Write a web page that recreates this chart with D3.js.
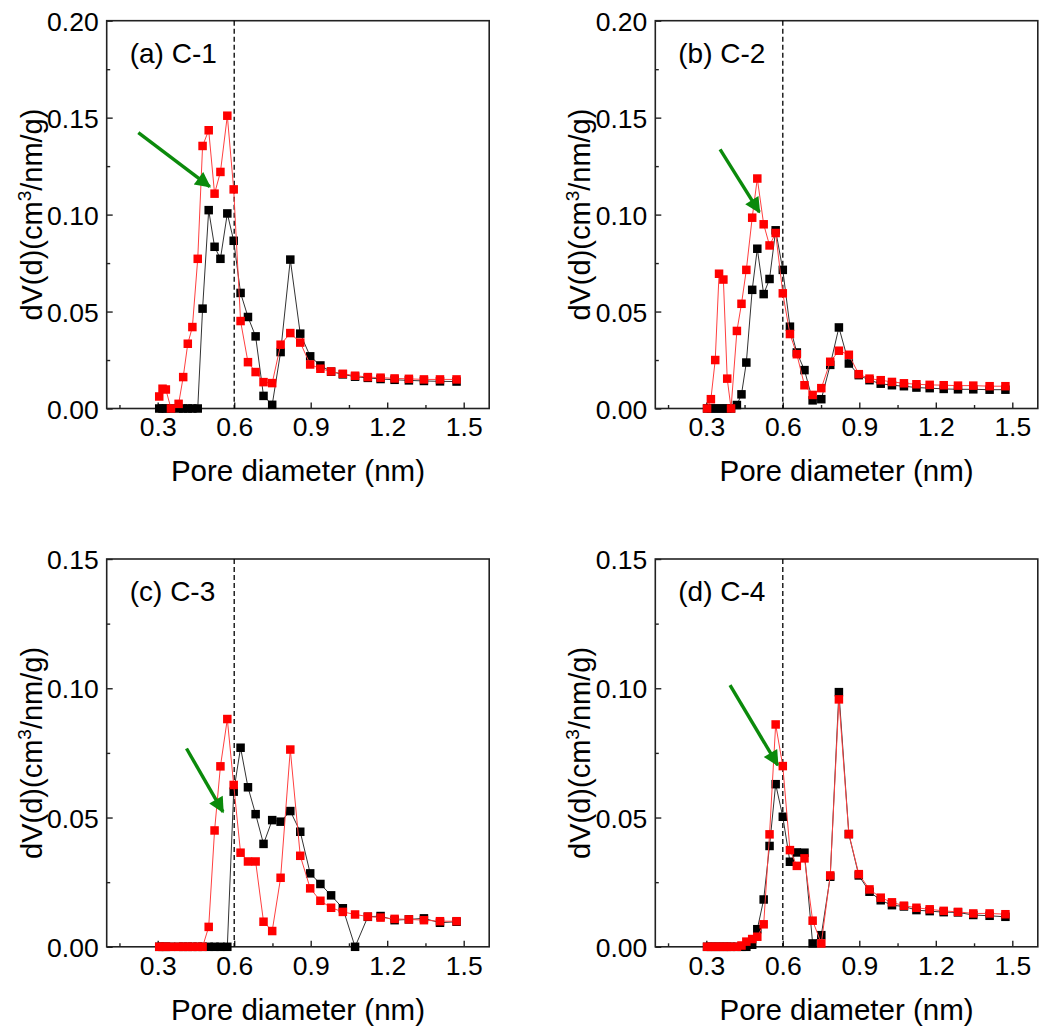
<!DOCTYPE html>
<html><head><meta charset="utf-8">
<script src="https://cdn.jsdelivr.net/npm/d3@7"></script>
<style>
body{margin:0;background:#fff}
svg{display:block}
text{font-family:"Liberation Sans",Arial,sans-serif;fill:#000}
</style>
</head><body>
<svg id="chart" width="1039" height="1032"></svg>
<script>
// ---------- data ----------
const xGridAC = [0.306,0.319,0.332,0.352,0.382,0.400,0.418,0.436,0.457,0.476,0.500,0.523,0.546,0.573,0.598,0.625,0.654,0.684,0.715,0.749,0.782,0.820,0.859,0.898,0.938,0.980,1.026,1.074,1.124,1.174,1.229,1.285,1.344,1.407,1.472];
const xGridBD = [0.303,0.318,0.335,0.350,0.367,0.382,0.397,0.420,0.438,0.457,0.480,0.500,0.525,0.548,0.572,0.600,0.628,0.655,0.685,0.717,0.751,0.786,0.820,0.859,0.898,0.940,0.984,1.028,1.075,1.124,1.176,1.231,1.287,1.347,1.411,1.473];

const redA = [0.0062,0.0102,0.0098,0,0.0024,0.0162,0.0334,0.042,0.0772,0.1354,0.1435,0.1108,0.122,0.151,0.113,0.0451,0.0239,0.0188,0.0136,0.0131,0.0329,0.0389,0.034,0.0227,0.0205,0.0191,0.0179,0.0169,0.0162,0.0159,0.0155,0.0153,0.015,0.015,0.015];
const blackA = [0,0,0,0,0,0,0,0,0,0.0515,0.1023,0.0834,0.0772,0.1006,0.0865,0.0596,0.0472,0.0372,0.0065,0.0019,0.0291,0.0768,0.0386,0.0269,0.0222,0.019,0.0176,0.0164,0.0158,0.0152,0.0148,0.0145,0.0142,0.014,0.0139];

const redB = [0,0.0048,0.025,0.0695,0.0665,0.0154,0,0.040,0.054,0.0715,0.0984,0.1186,0.095,0.0841,0.0905,0.0594,0.0384,0.028,0.012,0.007,0.0105,0.0241,0.0298,0.0277,0.0177,0.0154,0.0146,0.0137,0.013,0.0125,0.0122,0.012,0.0118,0.0118,0.0115,0.0115];
const blackB = [0,0,0,0,0,0,0,0.0018,0.0073,0.0237,0.0612,0.0824,0.059,0.0668,0.0919,0.0715,0.0422,0.0289,0.0198,0.0042,0.0048,0.0225,0.0418,0.0232,0.0172,0.0146,0.0128,0.012,0.0115,0.0108,0.0105,0.0101,0.0099,0.0099,0.0097,0.0097];

const redC = [0,0,0,0,0,0,0,0,0,0,0.0077,0.045,0.0698,0.0881,0.0626,0.0364,0.033,0.033,0.0097,0.0061,0.0267,0.0763,0.0352,0.0226,0.0178,0.0151,0.0135,0.0125,0.0117,0.0113,0.0108,0.0106,0.0103,0.0099,0.0099];
const blackC = [0,0,0,0,0,0,0,0,0,0,0,0,0,0,0.060,0.077,0.0617,0.0513,0.0398,0.049,0.0484,0.0525,0.0445,0.0284,0.0243,0.0199,0.0149,0,0.0116,0.0119,0.0103,0.0106,0.011,0.0093,0.0097];

const redD = [0,0,0,0,0,0,0,0,0.0005,0.002,0.003,0.0039,0.0087,0.0435,0.086,0.0699,0.0374,0.0313,0.0342,0.0101,0.0013,0.0276,0.0957,0.0436,0.0281,0.0222,0.019,0.0172,0.0159,0.0151,0.0145,0.0139,0.0135,0.0129,0.0129,0.0126];
const blackD = [0,0,0,0,0,0,0,0,0,0,0.0008,0.0068,0.0183,0.039,0.0629,0.0503,0.0329,0.0365,0.0364,0.0013,0.0045,0.0271,0.0985,0.0436,0.0276,0.0213,0.018,0.0161,0.0156,0.0142,0.0138,0.0134,0.0133,0.0123,0.012,0.0116];

const panelLabels = ["(a) C-1","(b) C-2","(c) C-3","(d) C-4"];
const yMaxes = [0.20,0.20,0.15,0.15];
const xMajorTicks = [0.3,0.6,0.9,1.2,1.5];
const xMinorTicks = [0.15,0.45,0.75,1.05,1.35];
const yMajorTicksAB = [0,0.05,0.10,0.15,0.20];
const yMinorTicksAB = [0.025,0.075,0.125,0.175];
const yMajorTicksCD = [0,0.05,0.10,0.15];
const yMinorTicksCD = [0.025,0.075,0.125];
const xDomain = [0.1,1.6];
const refLine = 0.6;
// arrows: [x0, y0, x1(tip), y1(tip)] in data units
const arrowA = [0.224,0.1423,0.504,0.1144];
const arrowB = [0.354,0.1336,0.508,0.1013];
const arrowC = [0.413,0.0767,0.556,0.0522];
const arrowD = [0.393,0.1012,0.580,0.0703];
const xTitle = "Pore diameter (nm)";

// ---------- layout ----------
const svg = d3.select("#chart");
const lefts = [106.7,655.3], tops = [20.7,559];
const pw = 382.5, ph = 387.8;

const panels = [
  {x:xGridAC, red:redA, black:blackA, arrow:arrowA, col:0,row:0, yMaj:yMajorTicksAB, yMin:yMinorTicksAB},
  {x:xGridBD, red:redB, black:blackB, arrow:arrowB, col:1,row:0, yMaj:yMajorTicksAB, yMin:yMinorTicksAB},
  {x:xGridAC, red:redC, black:blackC, arrow:arrowC, col:0,row:1, yMaj:yMajorTicksCD, yMin:yMinorTicksCD},
  {x:xGridBD, red:redD, black:blackD, arrow:arrowD, col:1,row:1, yMaj:yMajorTicksCD, yMin:yMinorTicksCD}
];

const defs = svg.append("defs");
defs.append("marker").attr("id","ah").attr("viewBox","0 0 10 10")
  .attr("refX",9).attr("refY",5).attr("markerWidth",5.6).attr("markerHeight",4.6)
  .attr("markerUnits","strokeWidth").attr("orient","auto")
  .append("path").attr("d","M0,0 L10,5 L0,10 Z").attr("fill","#0b8a0b");

panels.forEach((p,i)=>{
  const L = lefts[p.col], T = tops[p.row];
  const g = svg.append("g").attr("transform",`translate(${L},${T})`);
  const xs = d3.scaleLinear().domain(xDomain).range([0,pw]);
  const ys = d3.scaleLinear().domain([0,yMaxes[i]]).range([ph,0]);

  const xAx = g.append("g").attr("transform",`translate(0,${ph})`)
    .call(d3.axisBottom(xs).tickValues(xMajorTicks).tickSize(-6).tickPadding(9).tickFormat(d3.format(".1f")));
  const xAxm = g.append("g").attr("transform",`translate(0,${ph})`)
    .call(d3.axisBottom(xs).tickValues(xMinorTicks).tickSize(-3.5).tickFormat(""));
  const yAx = g.append("g")
    .call(d3.axisLeft(ys).tickValues(p.yMaj).tickSize(-6).tickPadding(8).tickFormat(d3.format(".2f")));
  const yAxm = g.append("g")
    .call(d3.axisLeft(ys).tickValues(p.yMin).tickSize(-3.5).tickFormat(""));
  [xAx,xAxm,yAx,yAxm].forEach(a=>{
    a.select(".domain").remove();
    a.selectAll(".tick line").attr("stroke","#222").attr("stroke-width",1.4);
    a.selectAll(".tick text").attr("font-size",26.5).attr("font-family","Liberation Sans, Arial, sans-serif").attr("fill","#000");
  });
  xAx.selectAll(".tick text").attr("dy","0.71em");
  yAx.selectAll(".tick text").attr("dy","0.36em");

  g.append("rect").attr("x",0).attr("y",0).attr("width",pw).attr("height",ph)
    .attr("fill","none").attr("stroke","#222").attr("stroke-width",1.6);

  g.append("line").attr("x1",xs(refLine)).attr("x2",xs(refLine)).attr("y1",0).attr("y2",ph)
    .attr("stroke","#000").attr("stroke-width",1.3).attr("stroke-dasharray","5,3");

  const line = d3.line().x(d=>xs(d[0])).y(d=>ys(d[1]));
  const blk = p.x.map((v,k)=>[v,p.black[k]]);
  const red = p.x.map((v,k)=>[v,p.red[k]]);
  const ms = 8.5;

  g.append("path").datum(blk).attr("d",line).attr("fill","none").attr("stroke","#333").attr("stroke-width",1);
  g.selectAll(".mb").data(blk).enter().append("rect")
    .attr("x",d=>xs(d[0])-ms/2).attr("y",d=>ys(d[1])-ms/2).attr("width",ms).attr("height",ms).attr("fill","#000");
  g.append("path").datum(red).attr("d",line).attr("fill","none").attr("stroke","#ff4040").attr("stroke-width",1);
  g.selectAll(".mr").data(red).enter().append("rect")
    .attr("x",d=>xs(d[0])-ms/2).attr("y",d=>ys(d[1])-ms/2).attr("width",ms).attr("height",ms).attr("fill","#ff0000");

  const a = p.arrow;
  g.append("line").attr("x1",xs(a[0])).attr("y1",ys(a[1])).attr("x2",xs(a[2])).attr("y2",ys(a[3]))
    .attr("stroke","#0b8a0b").attr("stroke-width",3.4).attr("marker-end","url(#ah)");

  g.append("text").attr("x",23).attr("y",42).attr("font-size",28).text(panelLabels[i]);

  g.append("text").attr("x",pw/2).attr("y",ph+73).attr("text-anchor","middle").attr("font-size",29.5).text(xTitle);

  const yt = g.append("text").attr("transform",`translate(-65,${ph/2}) rotate(-90)`)
    .attr("text-anchor","middle").attr("font-size",29);
  yt.append("tspan").text("dV(d)(cm");
  yt.append("tspan").attr("font-size",19).attr("dy",-11).text("3");
  yt.append("tspan").attr("dy",11).text("/nm/g)");
});
</script>
</body></html>
